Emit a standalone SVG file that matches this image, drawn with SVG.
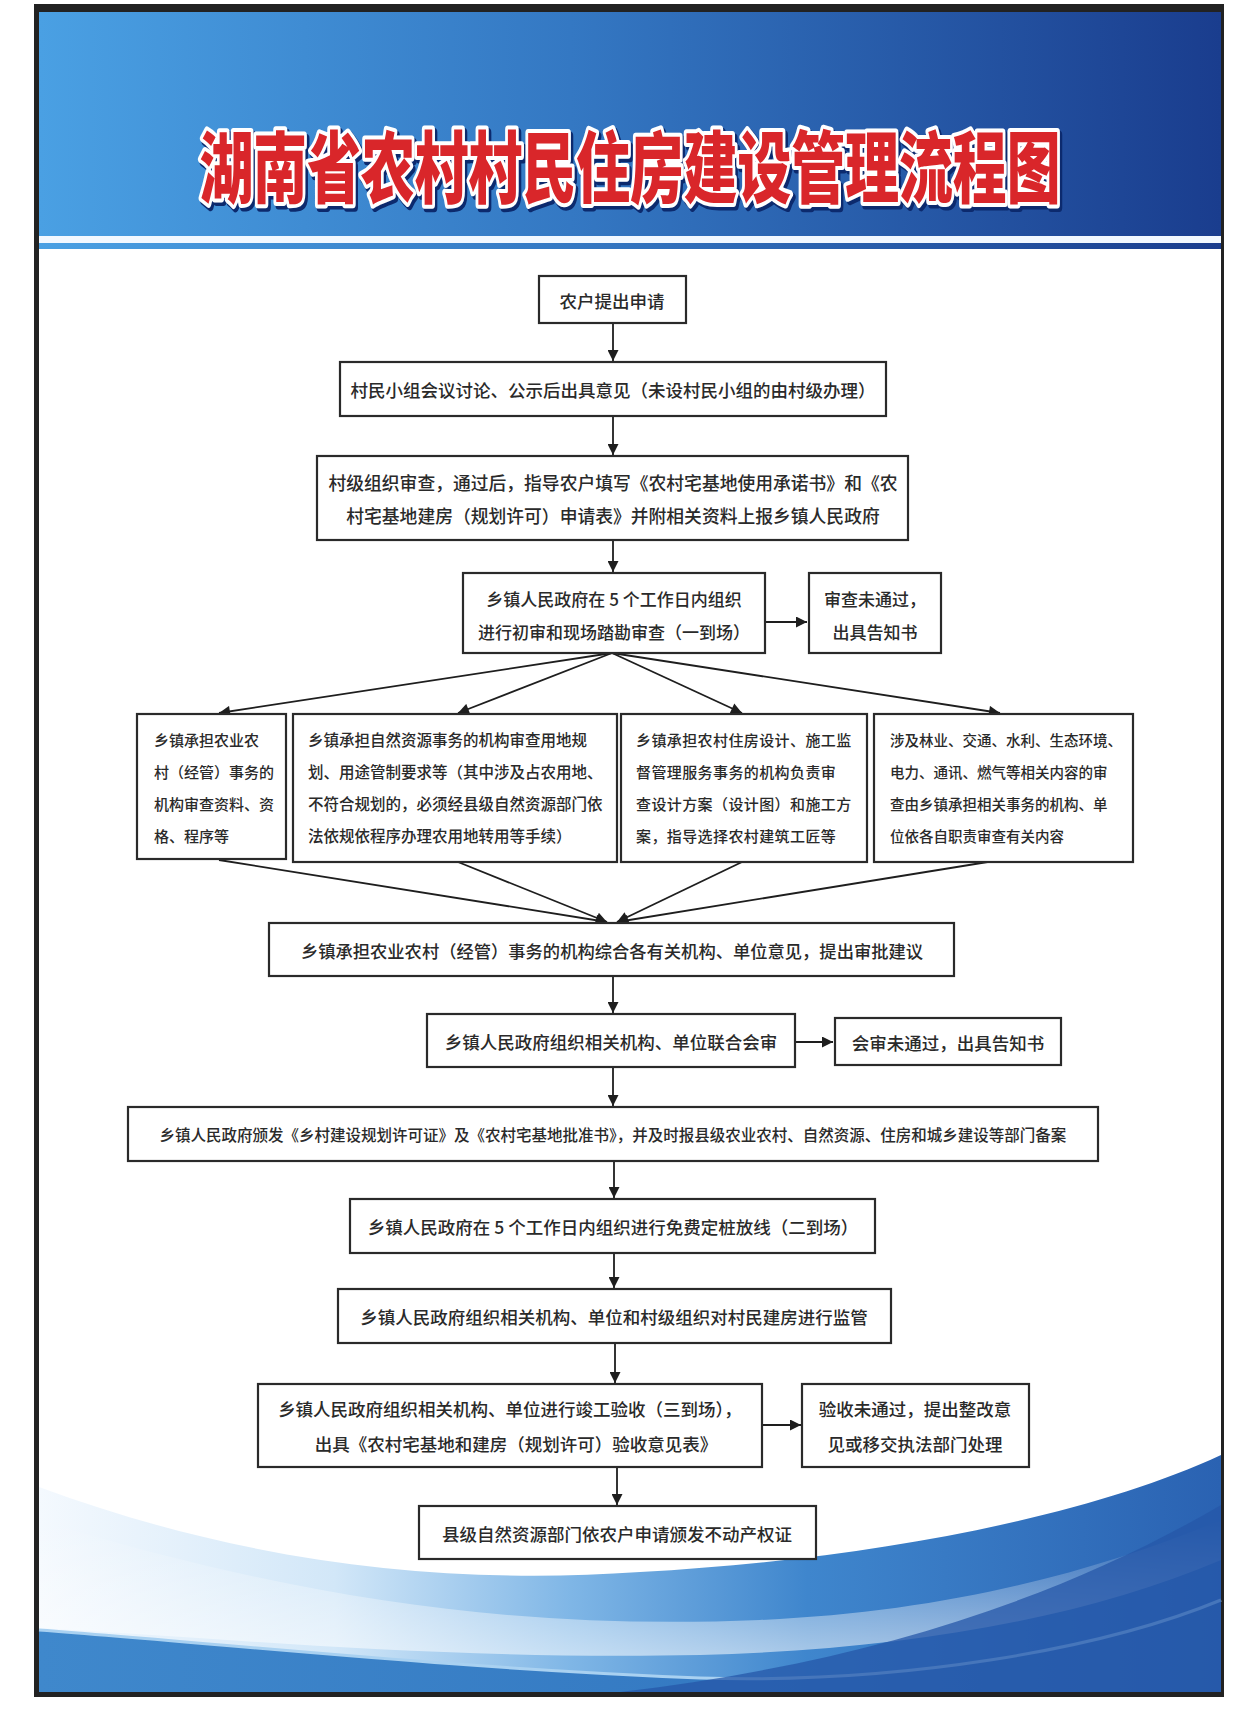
<svg xmlns="http://www.w3.org/2000/svg" width="1242" height="1710" viewBox="0 0 1242 1710">
<defs>
<linearGradient id="hdr" x1="0" y1="0" x2="1" y2="0">
<stop offset="0" stop-color="#4aa0e3"/>
<stop offset="0.45" stop-color="#3478c3"/>
<stop offset="1" stop-color="#1a3d8e"/>
</linearGradient>
<linearGradient id="waveA" x1="0" y1="0" x2="1" y2="0">
<stop offset="0" stop-color="#f4f9fe"/>
<stop offset="0.25" stop-color="#d2e7f8"/>
<stop offset="0.45" stop-color="#7fb6e6"/>
<stop offset="0.65" stop-color="#3f86cd"/>
<stop offset="1" stop-color="#2a62b2"/>
</linearGradient>
<linearGradient id="waveC" x1="0" y1="0" x2="1" y2="0">
<stop offset="0" stop-color="#3f88cc"/>
<stop offset="0.6" stop-color="#3479c2"/>
<stop offset="1" stop-color="#2a62b0"/>
</linearGradient>
<linearGradient id="sheen" x1="0" y1="0" x2="0" y2="1">
<stop offset="0" stop-color="#ffffff" stop-opacity="0"/>
<stop offset="1" stop-color="#ffffff" stop-opacity="0.55"/>
</linearGradient>
<marker id="ah" viewBox="0 0 10 10" refX="10" refY="5" markerWidth="12" markerHeight="11" markerUnits="userSpaceOnUse" orient="auto">
<path d="M0,0 L10,5 L0,10 z" fill="#1e1e1e"/>
</marker>
</defs>
<style>
.box{fill:#ffffff;stroke:#2a2a2a;stroke-width:2.2}
.t{font-family:"Noto Sans CJK SC","Noto Sans",sans-serif;font-weight:500;font-size:17.5px;fill:#2a2a2a;text-anchor:middle;dominant-baseline:central}
.l{font-family:"Noto Sans CJK SC","Noto Sans",sans-serif;font-weight:500;font-size:15.5px;fill:#2a2a2a;dominant-baseline:central}
.c{fill:none;stroke:#1e1e1e;stroke-width:1.8;marker-end:url(#ah)}
.title{font-family:"Noto Sans CJK SC","Noto Sans",sans-serif;font-weight:900;font-size:78px;text-anchor:middle;dominant-baseline:central}
</style>

<!-- frame and background -->
<rect x="0" y="0" width="1242" height="1710" fill="#ffffff"/>
<rect x="34" y="4" width="1190" height="1693" fill="#222222"/>
<rect x="39" y="12" width="1182" height="1680" fill="#ffffff"/>

<!-- header -->
<rect x="39" y="12" width="1182" height="224" fill="url(#hdr)"/>
<rect x="39" y="236" width="1182" height="7" fill="#f2f8ff"/>
<rect x="39" y="243" width="1182" height="6" fill="url(#hdr)"/>
<g transform="translate(630,163) scale(0.69,1)">
<text class="title" x="3" y="3" fill="#0c2a6e" stroke="#0c2a6e" stroke-width="9" stroke-linejoin="round">湖南省农村村民住房建设管理流程图</text>
<text class="title" x="0" y="0" fill="#d9262a" stroke="#ffffff" stroke-width="8" stroke-linejoin="round" paint-order="stroke">湖南省农村村民住房建设管理流程图</text>
</g>

<!-- bottom wave -->
<path d="M39,1487 C250,1565 450,1585 640,1572 C860,1560 1080,1520 1221,1455 L1221,1692 L39,1692 z" fill="url(#waveA)"/>
<path d="M39,1520 C300,1600 520,1630 760,1620 C950,1612 1100,1570 1221,1520 L1221,1560 C1080,1620 900,1650 700,1655 C450,1660 250,1640 39,1628 z" fill="url(#sheen)"/>
<path d="M39,1630 C250,1646 450,1668 700,1678 C900,1684 1100,1650 1221,1600 L1221,1692 L39,1692 z" fill="url(#waveC)"/>
<path d="M39,1630 C250,1646 450,1668 700,1678 C900,1684 1100,1650 1221,1600" fill="none" stroke="#a9d1f1" stroke-width="3"/>
<path d="M620,1692 C850,1665 1050,1605 1221,1505 L1221,1692 z" fill="#2557a8" opacity="0.75"/>

<!-- connectors -->
<g id="connectors">
<line class="c" x1="613" y1="323" x2="613" y2="361"/>
<line class="c" x1="613" y1="416" x2="613" y2="455"/>
<line class="c" x1="613" y1="540" x2="613" y2="572"/>
<line class="c" x1="765" y1="622" x2="807" y2="622"/>
<line class="c" x1="612" y1="653" x2="219" y2="713"/>
<line class="c" x1="612" y1="653" x2="458" y2="713"/>
<line class="c" x1="612" y1="653" x2="742" y2="713"/>
<line class="c" x1="612" y1="653" x2="1000" y2="713"/>
<line class="c" x1="219" y1="860" x2="607" y2="922"/>
<line class="c" x1="458" y1="862" x2="607" y2="922"/>
<line class="c" x1="742" y1="862" x2="617" y2="922"/>
<line class="c" x1="1000" y1="860" x2="617" y2="922"/>
<line class="c" x1="613" y1="976" x2="613" y2="1013"/>
<line class="c" x1="795" y1="1042" x2="833" y2="1042"/>
<line class="c" x1="613" y1="1067" x2="613" y2="1106"/>
<line class="c" x1="614" y1="1161" x2="614" y2="1198"/>
<line class="c" x1="614" y1="1253" x2="614" y2="1288"/>
<line class="c" x1="615" y1="1343" x2="615" y2="1383"/>
<line class="c" x1="762" y1="1425" x2="801" y2="1425"/>
<line class="c" x1="617" y1="1467" x2="617" y2="1505"/>
</g>

<!-- nodes -->
<g id="n1"><rect class="box" x="539" y="276" width="147" height="47"/><text class="t" x="612" y="300">农户提出申请</text></g>
<g id="n2"><rect class="box" x="340" y="362" width="546" height="54"/><text class="t" x="613" y="389">村民小组会议讨论、公示后出具意见（未设村民小组的由村级办理）</text></g>
<g id="n3"><rect class="box" x="317" y="456" width="591" height="84"/>
<text class="t" x="613" y="482" style="font-size:17.8px">村级组织审查，通过后，指导农户填写《农村宅基地使用承诺书》和《农</text>
<text class="t" x="613" y="515" style="font-size:17.8px">村宅基地建房（规划许可）申请表》并附相关资料上报乡镇人民政府</text></g>
<g id="n4"><rect class="box" x="463" y="573" width="302" height="80"/>
<text class="t" x="614" y="598" style="font-size:17px">乡镇人民政府在 5 个工作日内组织</text>
<text class="t" x="614" y="631" style="font-size:17px">进行初审和现场踏勘审查（一到场）</text></g>
<g id="n4r"><rect class="box" x="809" y="573" width="132" height="80"/>
<text class="t" x="875" y="598" style="font-size:17px">审查未通过，</text>
<text class="t" x="875" y="631" style="font-size:17px">出具告知书</text></g>

<g id="nA"><rect class="box" x="137" y="714" width="149" height="145"/>
<text class="l" x="154" y="739" style="font-size:15px">乡镇承担农业农</text>
<text class="l" x="154" y="771" style="font-size:15px">村（经管）事务的</text>
<text class="l" x="154" y="803" style="font-size:15px">机构审查资料、资</text>
<text class="l" x="154" y="835" style="font-size:15px">格、程序等</text></g>
<g id="nB"><rect class="box" x="293" y="714" width="324" height="148"/>
<text class="l" x="308" y="739">乡镇承担自然资源事务的机构审查用地规</text>
<text class="l" x="308" y="771">划、用途管制要求等（其中涉及占农用地、</text>
<text class="l" x="308" y="803">不符合规划的，必须经县级自然资源部门依</text>
<text class="l" x="308" y="835">法依规依程序办理农用地转用等手续）</text></g>
<g id="nC"><rect class="box" x="621" y="714" width="246" height="148"/>
<text class="l" x="636" y="739" style="font-size:15px" letter-spacing="0.4">乡镇承担农村住房设计、施工监</text>
<text class="l" x="636" y="771" style="font-size:15px" letter-spacing="0.4">督管理服务事务的机构负责审</text>
<text class="l" x="636" y="803" style="font-size:15px" letter-spacing="0.4">查设计方案（设计图）和施工方</text>
<text class="l" x="636" y="835" style="font-size:15px" letter-spacing="0.4">案，指导选择农村建筑工匠等</text></g>
<g id="nD"><rect class="box" x="874" y="714" width="259" height="148"/>
<text class="l" x="890" y="739" style="font-size:14.5px">涉及林业、交通、水利、生态环境、</text>
<text class="l" x="890" y="771" style="font-size:14.5px">电力、通讯、燃气等相关内容的审</text>
<text class="l" x="890" y="803" style="font-size:14.5px">查由乡镇承担相关事务的机构、单</text>
<text class="l" x="890" y="835" style="font-size:14.5px">位依各自职责审查有关内容</text></g>

<g id="n5"><rect class="box" x="269" y="923" width="685" height="53"/><text class="t" x="612" y="950" style="font-size:17.3px">乡镇承担农业农村（经管）事务的机构综合各有关机构、单位意见，提出审批建议</text></g>
<g id="n6"><rect class="box" x="427" y="1014" width="368" height="53"/><text class="t" x="611" y="1041">乡镇人民政府组织相关机构、单位联合会审</text></g>
<g id="n6r"><rect class="box" x="835" y="1018" width="226" height="47"/><text class="t" x="948" y="1042">会审未通过，出具告知书</text></g>
<g id="n7"><rect class="box" x="128" y="1107" width="970" height="54"/><text class="t" x="613" y="1134" style="font-size:15.5px">乡镇人民政府颁发《乡村建设规划许可证》及《农村宅基地批准书》，并及时报县级农业农村、自然资源、住房和城乡建设等部门备案</text></g>
<g id="n8"><rect class="box" x="350" y="1199" width="525" height="54"/><text class="t" x="613" y="1226">乡镇人民政府在 5 个工作日内组织进行免费定桩放线（二到场）</text></g>
<g id="n9"><rect class="box" x="338" y="1289" width="553" height="54"/><text class="t" x="614" y="1316">乡镇人民政府组织相关机构、单位和村级组织对村民建房进行监管</text></g>
<g id="n10"><rect class="box" x="258" y="1384" width="504" height="83"/>
<text class="t" x="510" y="1408">乡镇人民政府组织相关机构、单位进行竣工验收（三到场），</text>
<text class="t" x="516" y="1443">出具《农村宅基地和建房（规划许可）验收意见表》</text></g>
<g id="n10r"><rect class="box" x="802" y="1384" width="227" height="83"/>
<text class="t" x="915" y="1408">验收未通过，提出整改意</text>
<text class="t" x="915" y="1443">见或移交执法部门处理</text></g>
<g id="n11"><rect class="box" x="419" y="1506" width="397" height="53"/><text class="t" x="617" y="1533">县级自然资源部门依农户申请颁发不动产权证</text></g>
</svg>
